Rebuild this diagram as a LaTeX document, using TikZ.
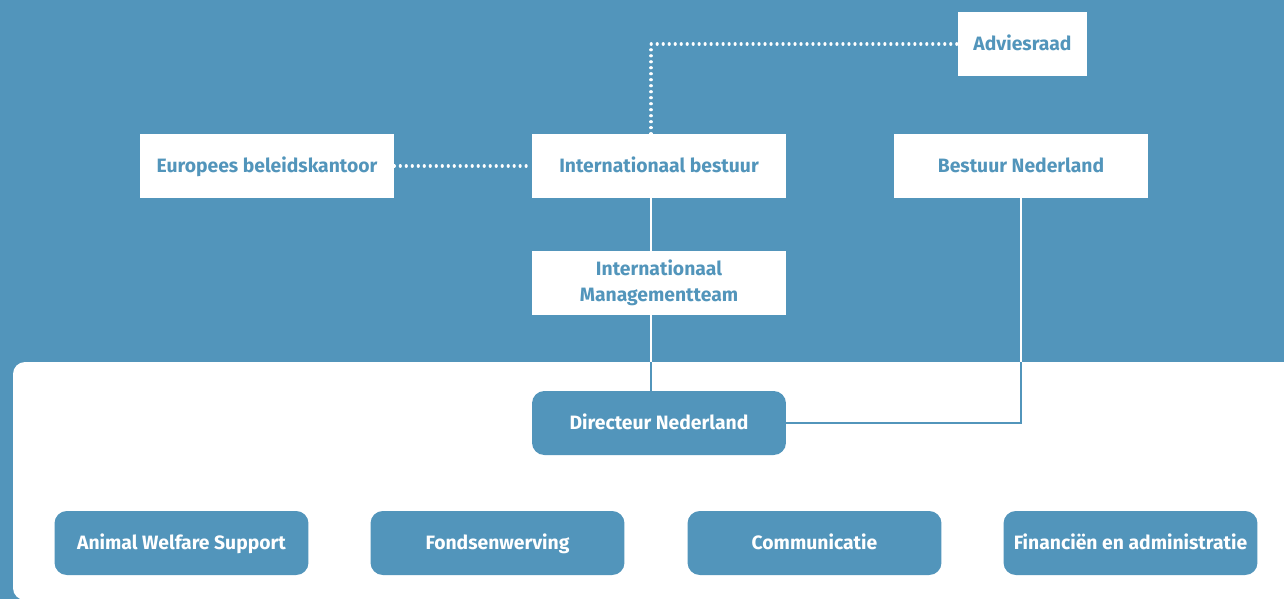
\documentclass[tikz,border=0pt]{standalone}
\usepackage{fontspec}
\setmainfont{Fira Sans}
\usetikzlibrary{positioning, calc}
\definecolor{orgblue}{RGB}{82, 149, 187}

\begin{document}
\begin{tikzpicture}[
  x=0.02cm, y=-0.02cm,
  wbox/.style={fill=white, minimum width=5.08cm, minimum height=1.28cm, align=center, inner sep=2pt, text=orgblue, font=\fontsize{11}{15}\selectfont\bfseries},
  bbox/.style={fill=orgblue, rounded corners=7pt, minimum width=5.08cm, minimum height=1.28cm, align=center, inner sep=2pt, text=white, text height=1.6ex, text depth=0.3ex, font=\fontsize{11}{15}\selectfont\bfseries},
  link/.style={line width=1.2pt},
  dotlink/.style={draw=white, line width=1.8pt, dash pattern=on 0.01pt off 3.4pt, line cap=round}
]
  \useasboundingbox (0,0) rectangle (1284,599);
  \fill[orgblue] (0,0) rectangle (1284,599);
  % white lower panel
  \fill[white, rounded corners=0.24cm] (13,362) rectangle (1310,600);

  % top level
  \node[wbox, minimum width=2.58cm, text height=1.6ex, text depth=0.3ex] (adv) at (1022.5,44) {Adviesraad};
  \node[wbox, text height=1.6ex, text depth=0.3ex] (ebk) at (267,166) {Europees beleidskantoor};
  \node[wbox, text height=1.6ex, text depth=0.3ex] (ib) at (659,166) {Internationaal bestuur};
  \node[wbox, text height=1.6ex, text depth=0.3ex] (bn) at (1021,166) {Bestuur Nederland};
  \node[wbox] (mt) at (659,283) {Internationaal\\Managementteam};

  % lower panel
  \node[bbox] (dir) at (659,423) {Directeur Nederland};
  \node[bbox] (aws) at (181.5,543) {Animal Welfare Support};
  \node[bbox] (fw) at (497.5,543) {Fondsenwerving};
  \node[bbox] (com) at (814.5,543) {Communicatie};
  \node[bbox] (fin) at (1130.5,543) {Financiën en administratie};

  \coordinate (trunk) at (651,0);

  % dotted advisory lines
  \draw[dotlink] (ebk.east) -- (ib.west);
  \draw[dotlink] (ib.north -| trunk) |- (adv.west);

  % solid lines, white on blue, blue on white
  \newcommand\orglinks[1]{
    \draw[link, #1] (ib.south -| trunk) -- (mt.north -| trunk);
    \draw[link, #1] (mt.south -| trunk) -- (dir.north -| trunk);
    \draw[link, #1] (bn.south) |- (dir.east);
  }
  \orglinks{white}
  \begin{scope}
    \clip (13,362) rectangle (1310,600);
    \orglinks{orgblue}
  \end{scope}
\end{tikzpicture}
\end{document}
